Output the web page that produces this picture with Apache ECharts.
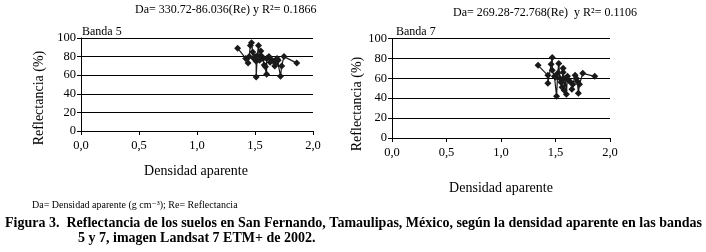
<!DOCTYPE html>
<html>
<head>
<meta charset="utf-8">
<script src="https://cdn.jsdelivr.net/npm/echarts@6/dist/echarts.min.js"></script>
<style>
html,body{margin:0;padding:0;background:#fff;}
#c{width:706px;height:252px;}
</style>
</head>
<body>
<div id="c"></div>
<script>
// Banda 5: densidad aparente (x) vs reflectancia (y)
const banda5X = [1.35,1.42,1.44,1.45,1.46,1.47,1.48,1.49,1.50,1.51,1.51,1.52,1.53,1.54,1.55,1.56,1.57,1.58,1.59,1.60,1.60,1.62,1.63,1.64,1.66,1.67,1.68,1.69,1.70,1.72,1.73,1.75,1.86];
const banda5Y = [89,78,73,80,92,95,85,78,80,75,58,81,92,76,86,80,78,71,69,61,78,80,74,77,75,70,72,78,76,59,70,80,73];
// Banda 7
const banda7X = [1.34,1.43,1.43,1.46,1.47,1.47,1.49,1.50,1.51,1.52,1.53,1.54,1.55,1.56,1.57,1.57,1.58,1.59,1.60,1.61,1.62,1.64,1.65,1.66,1.68,1.69,1.70,1.71,1.72,1.75,1.86];
const banda7Y = [73,63,55,74,81,68,62,61,42,65,75,60,56,51,70,66,48,60,44,62,58,56,49,54,63,60,57,45,54,65,62];
const xTicks = ['0,0','0,5','1,0','1,5','2,0'];
const yTicks = [0,20,40,60,80,100];

const serif = '"Liberation Serif", "DejaVu Serif", serif';
const chart = echarts.init(document.getElementById('c'));
const pairs = (xs, ys) => xs.map((x, i) => [x, ys[i]]);

function xAxis(gi){
  return {
    type:'value', gridIndex:gi, min:0, max:2, interval:0.5,
    axisLine:{show:true, onZero:false, lineStyle:{color:'#000', width:1}},
    axisTick:{show:true, length:4, lineStyle:{color:'#000'}},
    splitLine:{show:false},
    axisLabel:{color:'#000', fontFamily:serif, fontSize:12.5, margin:8,
      formatter:v => xTicks[Math.round(v/0.5)]}
  };
}
function yAxis(gi){
  return {
    type:'value', gridIndex:gi, min:0, max:100, interval:20,
    axisLine:{show:true, lineStyle:{color:'#000', width:1}},
    axisTick:{show:true, length:4, lineStyle:{color:'#000'}},
    splitLine:{show:true, lineStyle:{color:'#000', width:1}},
    axisLabel:{color:'#000', fontFamily:serif, fontSize:12.5, margin:5,
      formatter:v => String(yTicks[Math.round(v/20)])}
  };
}
function series(gi, data){
  return {
    type:'line', xAxisIndex:gi, yAxisIndex:gi, data:data,
    symbol:'diamond', symbolSize:7, showSymbol:true,
    lineStyle:{color:'#1a1a1a', width:1.2},
    itemStyle:{color:'#1a1a1a'},
    animation:false, silent:true
  };
}

chart.setOption({
  animation:false,
  grid:[
    {left:81, top:38, width:232, height:93},
    {left:392, top:38.5, width:218, height:99.5}
  ],
  xAxis:[xAxis(0), xAxis(1)],
  yAxis:[yAxis(0), yAxis(1)],
  series:[series(0, pairs(banda5X, banda5Y)), series(1, pairs(banda7X, banda7Y))],
  graphic:[
    {type:'text', left:135, top:4, style:{text:'Da= 330.72-86.036(Re) y R²= 0.1866', font:'12px '+serif, fill:'#000'}},
    {type:'text', left:453, top:7, style:{text:'Da= 269.28-72.768(Re)  y R²= 0.1106', font:'12px '+serif, fill:'#000'}},
    {type:'text', left:82, top:26, style:{text:'Banda 5', font:'12px '+serif, fill:'#000'}},
    {type:'text', left:396, top:26, style:{text:'Banda 7', font:'12px '+serif, fill:'#000'}},
    {type:'text', x:39, y:98, rotation:Math.PI/2, style:{text:'Reflectancia (%)', font:'14px '+serif, fill:'#000', align:'center', verticalAlign:'middle'}},
    {type:'text', x:357, y:104, rotation:Math.PI/2, style:{text:'Reflectancia (%)', font:'14px '+serif, fill:'#000', align:'center', verticalAlign:'middle'}},
    {type:'text', x:196, y:171, style:{text:'Densidad aparente', font:'14px '+serif, fill:'#000', align:'center', verticalAlign:'middle'}},
    {type:'text', x:501, y:188, style:{text:'Densidad aparente', font:'14px '+serif, fill:'#000', align:'center', verticalAlign:'middle'}},
    {type:'text', x:32, y:205, style:{text:'Da= Densidad aparente (g cm⁻³); Re= Reflectancia', font:'10px '+serif, fill:'#000', verticalAlign:'middle'}},
    {type:'text', x:5, y:223, style:{text:'Figura 3.  Reflectancia de los suelos en San Fernando, Tamaulipas, México, según la densidad aparente en las bandas', font:'bold 14px '+serif, fill:'#000', verticalAlign:'middle'}},
    {type:'text', x:78, y:238, style:{text:'5 y 7, imagen Landsat 7 ETM+ de 2002.', font:'bold 14px '+serif, fill:'#000', verticalAlign:'middle'}}
  ]
});
</script>
</body>
</html>
